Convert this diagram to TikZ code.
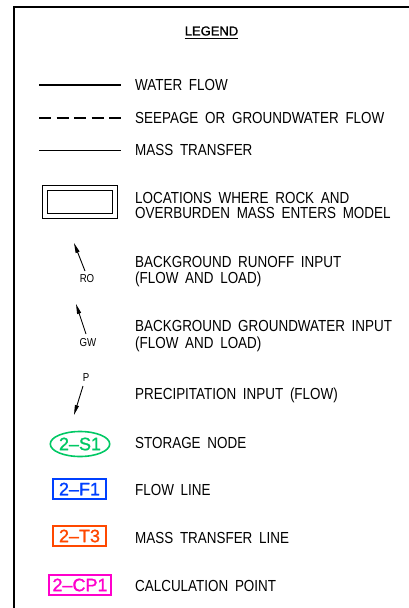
\documentclass[tikz,border=0pt]{standalone}
\usepackage{fontspec}
\setmainfont{Liberation Sans}[FakeStretch=0.84,WordSpace=1.8]
\newfontfamily\titlefont{Liberation Sans}[FakeBold=1.2]
\newfontfamily\labfont{Liberation Sans}[FakeBold=1.3]
\usetikzlibrary{arrows.meta,shapes.geometric}
\definecolor{sgreen}{RGB}{0,200,100}
\definecolor{fblue}{RGB}{0,64,255}
\definecolor{torange}{RGB}{255,72,0}
\definecolor{cpmag}{RGB}{255,0,204}
\tikzset{
  desc/.style={anchor=west,inner sep=0pt,font=\fontsize{16}{17}\selectfont},
  tiny/.style={inner sep=0pt,font=\fontsize{11.5}{12}\selectfont},
  inarrow/.style={line width=0.9pt,-{Triangle[length=10pt,width=4pt]}},
  tagbox/.style={draw,line width=1.6pt,inner sep=0pt,font=\labfont\fontsize{18}{19}\selectfont},
}
\begin{document}
\begin{tikzpicture}[x=1pt,y=-1pt]
\useasboundingbox (0,0) rectangle (409,608);
\fill[white] (0,0) rectangle (409,608);
% frame
\draw[line width=2pt] (14,608) -- (14,7) -- (409,7);
% title
\node[inner sep=0pt,font=\titlefont\fontsize{13}{14}\selectfont] (title) at (211.5,31) {LEGEND};
\draw[line width=1pt] ([yshift=-2.5pt]title.south west) -- ([yshift=-2.5pt]title.south east);
% water flow
\coordinate (w1) at (39,85); \coordinate (w2) at (121,85);
\draw[line width=2.2pt] (w1) -- (w2);
\node[desc] (tw) at (135,85) {WATER FLOW};
% seepage
\coordinate (s1) at (39,118); \coordinate (s2) at (121,118);
\draw[line width=1.8pt,dash pattern=on 12pt off 5.5pt] (s1) -- (s2);
\node[desc] (ts) at (135,118) {SEEPAGE OR GROUNDWATER FLOW};
% mass transfer
\coordinate (m1) at (39,150); \coordinate (m2) at (121,150);
\draw[line width=0.9pt] (m1) -- (m2);
\node[desc] (tm) at (135,150) {MASS TRANSFER};
% double rectangle
\draw[line width=0.9pt] (42,185) rectangle (117,218);
\draw[line width=0.9pt] (47,190) rectangle (112,213);
\node[desc] (tl1) at (135,198) {LOCATIONS WHERE ROCK AND};
\node[desc] (tl2) at (135,213) {OVERBURDEN MASS ENTERS MODEL};
% runoff
\node[tiny] (ro) at (87,279) {RO};
\coordinate (rotip) at (74,243);
\draw[inarrow] (85,271) -- (rotip);
\node[desc] (tr1) at (135,262) {BACKGROUND RUNOFF INPUT};
\node[desc] (tr2) at (135,279) {(FLOW AND LOAD)};
% groundwater
\node[tiny] (gw) at (88,343) {GW};
\coordinate (gwtip) at (76,304);
\draw[inarrow] (86,334) -- (gwtip);
\node[desc] (tg1) at (135,326) {BACKGROUND GROUNDWATER INPUT};
\node[desc] (tg2) at (135,344) {(FLOW AND LOAD)};
% precipitation
\node[tiny] (p) at (86,378) {P};
\coordinate (ptip) at (74,415);
\draw[inarrow] (83,386) -- (ptip);
\node[desc] (tp) at (135,395) {PRECIPITATION INPUT (FLOW)};
% storage node
\node[ellipse,draw=sgreen,line width=1.6pt,text=sgreen,minimum width=57pt,minimum height=25pt,inner sep=0pt,font=\labfont\fontsize{18}{19}\selectfont] (sn) at (80,444) {2–S1};
\node[desc] (tsn) at (135,443) {STORAGE NODE};
% flow line
\node[tagbox,draw=fblue,text=fblue,minimum width=53pt,minimum height=20pt] (fl) at (79.5,489) {2–F1};
\node[desc] (tfl) at (135,490) {FLOW LINE};
% mass transfer line
\node[tagbox,draw=torange,text=torange,minimum width=53pt,minimum height=20pt] (tt) at (79.5,536) {2–T3};
\node[desc] (ttt) at (135,538) {MASS TRANSFER LINE};
% calc point
\node[tagbox,draw=cpmag,text=cpmag,minimum width=62pt,minimum height=20pt] (cp) at (80,585) {2–CP1};
\node[desc] (tcp) at (135,586) {CALCULATION POINT};
\end{tikzpicture}
\end{document}
